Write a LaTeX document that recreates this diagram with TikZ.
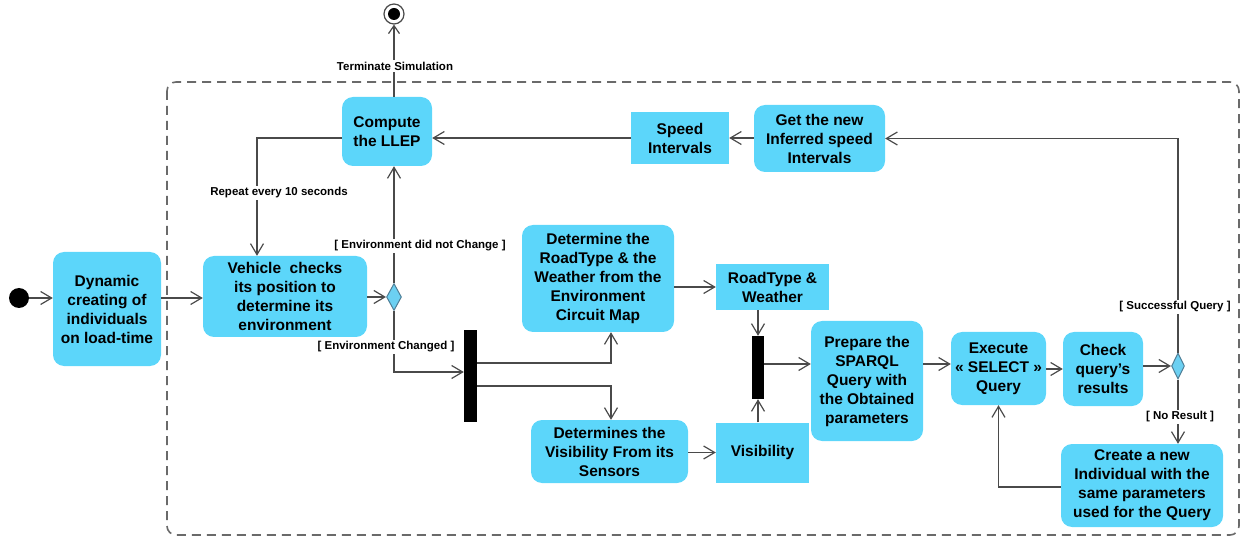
\documentclass[tikz,border=0pt]{standalone}
\usepackage{fontspec}
\setmainfont{Liberation Sans}
\usetikzlibrary{arrows.meta,shapes.geometric,calc}
\definecolor{actblue}{HTML}{5CD6FA}
\definecolor{linegray}{HTML}{4A4A4A}
\definecolor{dashgray}{HTML}{6A6A6A}
\definecolor{decfill}{HTML}{6CD0F2}
\definecolor{decdraw}{HTML}{4F7E96}
\tikzset{
  act/.style={rectangle, rounded corners=11pt, fill=actblue, draw=none, align=center, inner sep=0pt,
    font=\bfseries\fontsize{15.5}{19}\selectfont},
  obj/.style={rectangle, fill=actblue, draw=none, align=center, inner sep=0pt,
    font=\bfseries\fontsize{15.5}{19}\selectfont},
  bar/.style={rectangle, fill=black, draw=none, inner sep=0pt},
  dec/.style={diamond, fill=decfill, draw=decdraw, line width=1pt, inner sep=0pt},
  lbl/.style={font=\bfseries\fontsize{11.5}{13}\selectfont, fill=white, inner sep=1.5pt},
  flow/.style={draw=linegray, line width=1.2pt, -{Straight Barb[length=11pt,width=13pt,line width=1.2pt]}},
  plain/.style={draw=linegray, line width=1.2pt},
  region/.style={draw=dashgray, line width=1.6pt, dash pattern=on 9pt off 6pt, rounded corners=9pt}
}
\begin{document}
\begin{tikzpicture}[x=1pt,y=-1pt]
\useasboundingbox (0,0) rectangle (1245,537);
% interruptible region
\draw[region] (167,82) rectangle (1239,535);

% nodes
\node[circle, fill=black, minimum size=20pt, inner sep=0pt] (init) at (19,298) {};
\node[act, minimum width=108pt, minimum height=114pt] (dyn) at (107,309) {Dynamic\\creating of\\individuals\\on load-time};
\node[act, minimum width=164pt, minimum height=81pt] (veh) at (285,296.5) {Vehicle\ \ checks\\its position to\\determine its\\environment};
\node[dec, minimum width=15pt, minimum height=27pt] (dec1) at (394,297) {};
\node[act, minimum width=90pt, minimum height=69pt] (llep) at (387,131.5) {Compute\\the LLEP};
\node[circle, draw=linegray, line width=1.2pt, fill=white, minimum size=20pt, inner sep=0pt] (final) at (394,14) {};
\node[circle, fill=black, minimum size=12pt, inner sep=0pt] (finalin) at (394,14) {};
\node[obj, minimum width=98pt, minimum height=52pt] (speed) at (680,138) {Speed\\Intervals};
\node[act, minimum width=131pt, minimum height=67pt] (getnew) at (819.5,138.5) {Get the new\\Inferred speed\\Intervals};
\node[act, minimum width=152pt, minimum height=107pt] (road) at (598,278.5) {Determine the\\RoadType \& the\\Weather from the\\Environment\\Circuit Map};
\node[act, minimum width=157pt, minimum height=63pt] (vis1) at (609.5,451.5) {Determines the\\Visibility From its\\Sensors};
\node[bar, minimum width=13pt, minimum height=92pt] (fork) at (470.5,376) {};
\node[obj, minimum width=113pt, minimum height=46pt] (rw) at (772.5,287) {RoadType \&\\Weather};
\node[obj, minimum width=93pt, minimum height=60pt] (vis2) at (762.5,452.5) {Visibility};
\node[bar, minimum width=12pt, minimum height=63pt] (join) at (758,367.5) {};
\node[act, minimum width=112pt, minimum height=120pt] (prep) at (867,381) {Prepare the\\SPARQL\\Query with\\the Obtained\\parameters};
\node[act, minimum width=95pt, minimum height=73pt] (exec) at (998.5,368.5) {Execute\\« SELECT »\\Query};
\node[act, minimum width=80pt, minimum height=74pt] (check) at (1103,369) {Check\\query’s\\results};
\node[dec, minimum width=13pt, minimum height=26pt] (dec2) at (1178,366) {};
\node[act, minimum width=162pt, minimum height=83pt] (create) at (1142,485.5) {Create a new\\Individual with the\\same parameters\\used for the Query};

% connectors
\draw[flow] (init.east) -- (dyn.west |- init.east);
\draw[flow] (dyn.east |- init.east) -- (veh.west |- init.east);
\draw[flow] (veh.east |- dec1.west) -- (dec1.west);
\draw[flow] (dec1.north) -- (dec1.north |- llep.south);
\draw[draw=linegray, line width=1.2pt, -{Straight Barb[length=8pt,width=11pt,line width=1.2pt]}] (final |- llep.north) -- (final.south);
\coordinate (rep) at (257,138);
\draw[flow] ([yshift=-6.5pt]llep.west) -- (rep) -- (rep |- veh.north);
\draw[flow] (speed.west) -- (speed.west -| llep.east);
\draw[flow] (getnew.west |- speed.east) -- (speed.east);
\draw[flow] (dec2.north) |- (getnew.east);
\draw[flow] (check.east |- dec2.west) -- (dec2.west);
\draw[flow] (exec.east |- check.west) -- (check.west);
\coordinate (jy) at (0,364);
\draw[flow] (join.east |- jy) -- (prep.west |- jy);
\draw[flow] (prep.east |- jy) -- (exec.west |- jy);
\draw[flow] (dec2.south) -- (dec2.south |- create.north);
\coordinate (cy) at (0,487);
\draw[flow] (create.west |- cy) -| (exec.south);
\coordinate (fy) at (0,372);
\draw[flow] (dec1.south) |- (fork.west |- fy);
\coordinate (f1) at (611,363);
\coordinate (f2) at (611,386);
\draw[flow] (fork.east |- f1) -- (f1) -- (f1 |- road.south);
\draw[flow] (fork.east |- f2) -- (f2) -- (f2 |- vis1.north);
\draw[flow] (rw.west -| road.east) -- (rw.west);
\draw[flow] (vis1.east |- vis2.west) -- (vis2.west);
\draw[flow] (rw.south -| join.north) -- (join.north);
\draw[flow] (vis2.north -| join.south) -- (join.south);

% guard labels
\node[lbl] (lterm) at (395,66) {Terminate Simulation};
\node[lbl] (lrep) at (279,193) {Repeat every 10 seconds};
\node[lbl] (lnc) at (420,246) {[ Environment did not Change ]};
\node[lbl] (lch) at (386,347) {[ Environment Changed ]};
\node[lbl] (lsucc) at (1175,307) {[ Successful Query ]};
\node[lbl] (lno) at (1180,417) {[ No Result ]};
\end{tikzpicture}
\end{document}
